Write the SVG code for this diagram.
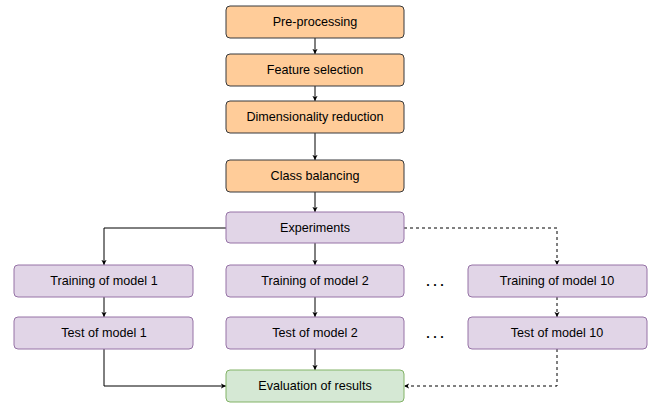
<svg xmlns="http://www.w3.org/2000/svg" width="656" height="405" viewBox="0 0 656 405">
<style>
.n rect{stroke-width:1}
.o rect{fill:#ffcc99;stroke:#36393d}
.p rect{fill:#e1d5e7;stroke:#9673a6}
.g rect{fill:#d5e8d4;stroke:#82b366}
text{font-family:"Liberation Sans",Arial,sans-serif;font-size:12.6px;fill:#000;text-anchor:middle;dominant-baseline:central}
.e path{fill:none;stroke:#000;stroke-width:1}
.e .d{stroke-dasharray:3 3}
</style>
<defs>
<marker id="a" viewBox="0 0 8 8" refX="7" refY="4" markerWidth="6" markerHeight="6" orient="auto" markerUnits="userSpaceOnUse">
<path d="M0,0.5 L7,4 L0,7.5 L2,4 Z" fill="#000"/>
</marker>
</defs>
<rect width="656" height="405" fill="#fff"/>
<g class="e">
<path d="M315,38 V54" marker-end="url(#a)"/>
<path d="M315,86 V101" marker-end="url(#a)"/>
<path d="M315,133 V160" marker-end="url(#a)"/>
<path d="M315,192 V212" marker-end="url(#a)"/>
<path d="M226,228 H104 V265" marker-end="url(#a)"/>
<path d="M315,243 V265" marker-end="url(#a)"/>
<path class="d" d="M404,228 H557 V265" marker-end="url(#a)"/>
<path d="M104,297 V317" marker-end="url(#a)"/>
<path d="M315,297 V317" marker-end="url(#a)"/>
<path class="d" d="M557,297 V317" marker-end="url(#a)"/>
<path d="M104,349 V386 H226" marker-end="url(#a)"/>
<path d="M315,349 V370" marker-end="url(#a)"/>
<path class="d" d="M557,349 V386 H404" marker-end="url(#a)"/>
</g>
<g id="preprocessing" class="n o"><rect x="226" y="6" width="178" height="32" rx="4"/><text x="315" y="22">Pre-processing</text></g>
<g id="feature" class="n o"><rect x="226" y="54" width="178" height="32" rx="4"/><text x="315" y="70">Feature selection</text></g>
<g id="dimred" class="n o"><rect x="226" y="101" width="178" height="32" rx="4"/><text x="315" y="117">Dimensionality reduction</text></g>
<g id="classbal" class="n o"><rect x="226" y="160" width="178" height="32" rx="4"/><text x="315" y="176">Class balancing</text></g>
<g id="experiments" class="n p"><rect x="226" y="212" width="178" height="31" rx="4"/><text x="315" y="228">Experiments</text></g>
<g id="train1" class="n p"><rect x="14" y="265" width="179" height="32" rx="4"/><text x="104" y="281">Training of model 1</text></g>
<g id="train2" class="n p"><rect x="226" y="265" width="178" height="32" rx="4"/><text x="315" y="281">Training of model 2</text></g>
<g id="train10" class="n p"><rect x="468" y="265" width="179" height="32" rx="4"/><text x="557" y="281">Training of model 10</text></g>
<g id="test1" class="n p"><rect x="14" y="317" width="179" height="32" rx="4"/><text x="104" y="333">Test of model 1</text></g>
<g id="test2" class="n p"><rect x="226" y="317" width="178" height="32" rx="4"/><text x="315" y="333">Test of model 2</text></g>
<g id="test10" class="n p"><rect x="468" y="317" width="179" height="32" rx="4"/><text x="557" y="333">Test of model 10</text></g>
<g id="evaluation" class="n g"><rect x="226" y="370" width="178" height="32" rx="4"/><text x="315" y="386">Evaluation of results</text></g>
<g id="dots1"><text x="435" y="282" font-weight="bold">. . .</text></g>
<g id="dots2"><text x="435" y="334" font-weight="bold">. . .</text></g>
</svg>
